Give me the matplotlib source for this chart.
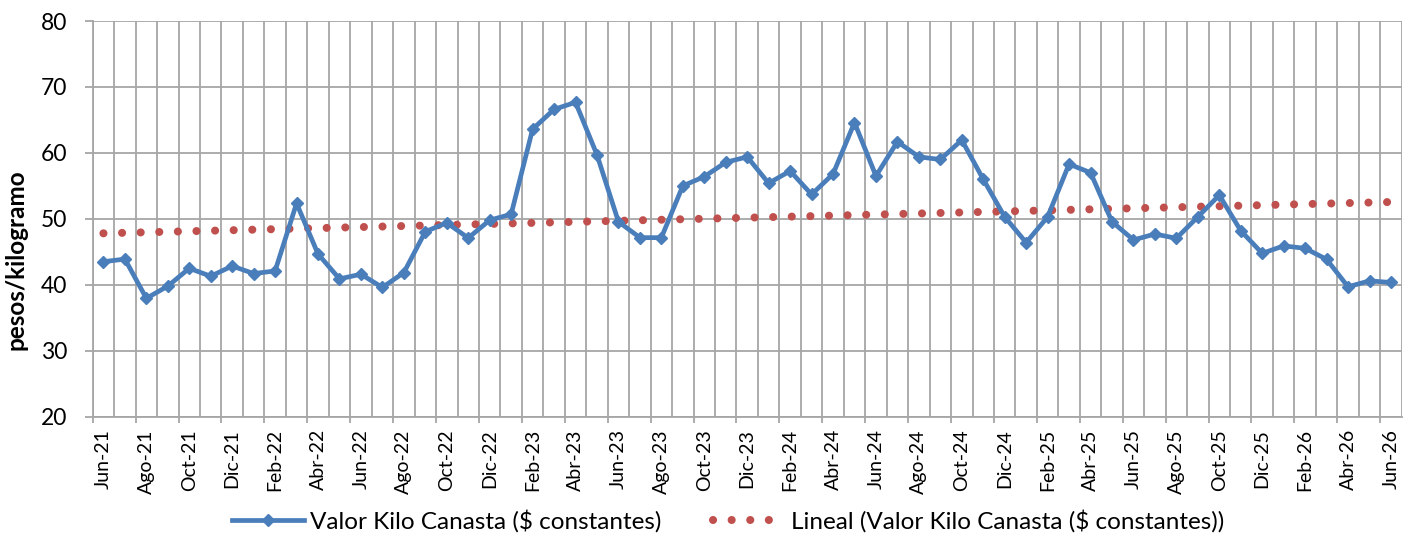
import numpy as np
import matplotlib.pyplot as plt

plt.rcParams['font.family'] = ['Lato', 'DejaVu Sans']

# monthly series, Jun-21 .. Jun-26
MONTH_NAMES = ['Ene', 'Feb', 'Mar', 'Abr', 'May', 'Jun', 'Jul', 'Ago', 'Sep', 'Oct', 'Nov', 'Dic']
first_year, first_month = 21, 6

valor_kilo = [
    43.5, 43.9, 37.95, 39.8, 42.5, 41.3, 42.85,                              # 2021
    41.7, 42.1, 52.35, 44.67, 40.9, 41.6, 39.6, 41.85, 48.06, 49.4, 47.1, 49.8,  # 2022
    50.7, 63.6, 66.6, 67.67, 59.7, 49.57, 47.15, 47.15, 55.0, 56.4, 58.57, 59.4,  # 2023
    55.4, 57.26, 53.7, 56.8, 64.6, 56.5, 61.7, 59.4, 59.0, 61.95, 56.0, 50.3,    # 2024
    46.4, 50.3, 58.3, 57.0, 49.57, 46.8, 47.7, 47.05, 50.3, 53.6, 48.2, 44.77,   # 2025
    45.9, 45.53, 43.86, 39.7, 40.6, 40.35,                                   # 2026
]

month_labels = []
for i in range(len(valor_kilo)):
    m = (first_month - 1 + i) % 12
    y = first_year + (first_month - 1 + i) // 12
    month_labels.append(f'{MONTH_NAMES[m]}-{y}')

# linear trend line (least squares), like the spreadsheet's "Lineal" trendline
x = np.arange(len(valor_kilo))
slope, intercept = np.polyfit(x, valor_kilo, 1)
trend = intercept + slope * x

BLUE = '#4A7EBB'
RED = '#C0504D'
GRID = '#A6A6A6'

fig = plt.figure(figsize=(14.12, 5.36), dpi=100)
ax = fig.add_axes([92.7 / 1412, 1 - 416.7 / 536, 1309 / 1412, (416.7 - 21) / 536])

ax.plot(x, valor_kilo, color=BLUE, linewidth=3.4, marker='D', markersize=6.5,
        label='Valor Kilo Canasta ($ constantes)', zorder=3)
ax.plot(x, trend, color=RED, linewidth=5.8, linestyle=(0, (0.01, 2.3)),
        dash_capstyle='round', label='Lineal (Valor Kilo Canasta ($ constantes))', zorder=2)

n = len(valor_kilo)
ax.set_xlim(-0.5, n - 0.5)
ax.set_ylim(20, 80)
ax.set_yticks(np.arange(20, 81, 10))

# labels centred on every other month, gridlines on every month boundary
ax.set_xticks(x[::2])
ax.set_xticklabels(month_labels[::2], rotation=90, fontsize=14)
ax.set_xticks(np.arange(-0.5, n, 1), minor=True)
ax.tick_params(axis='x', which='both', length=0, pad=9)
ax.grid(False, axis='x', which='major')
ax.grid(True, axis='x', which='minor', color=GRID, linewidth=1.3)
ax.grid(True, axis='y', which='major', color=GRID, linewidth=1.3)
ax.set_axisbelow(True)

# tick marks on every second boundary
sec = ax.secondary_xaxis('bottom')
sec.set_xticks(np.arange(-0.5, n - 1, 2))
sec.set_xticklabels([])
sec.tick_params(length=4.5, width=1.3, color=GRID)
sec.spines['bottom'].set_visible(False)

ax.tick_params(axis='y', length=5.5, width=1.3, color=GRID, labelsize=16.5, pad=13)
for side in ['top', 'right']:
    ax.spines[side].set_visible(False)
for side in ['left', 'bottom']:
    ax.spines[side].set_color(GRID)
    ax.spines[side].set_linewidth(1.3)

ax.set_ylabel('pesos/kilogramo', fontsize=17.5, fontweight='bold')
ax.yaxis.set_label_coords(-0.050, 0.396)

fig.legend(loc='center', bbox_to_anchor=(728 / 1412, 1 - 521 / 536), ncol=2,
           frameon=False, fontsize=17.5, handlelength=2.96, columnspacing=2.1,
           handletextpad=0.25)

plt.savefig('out.png', dpi=100)
plt.close()
